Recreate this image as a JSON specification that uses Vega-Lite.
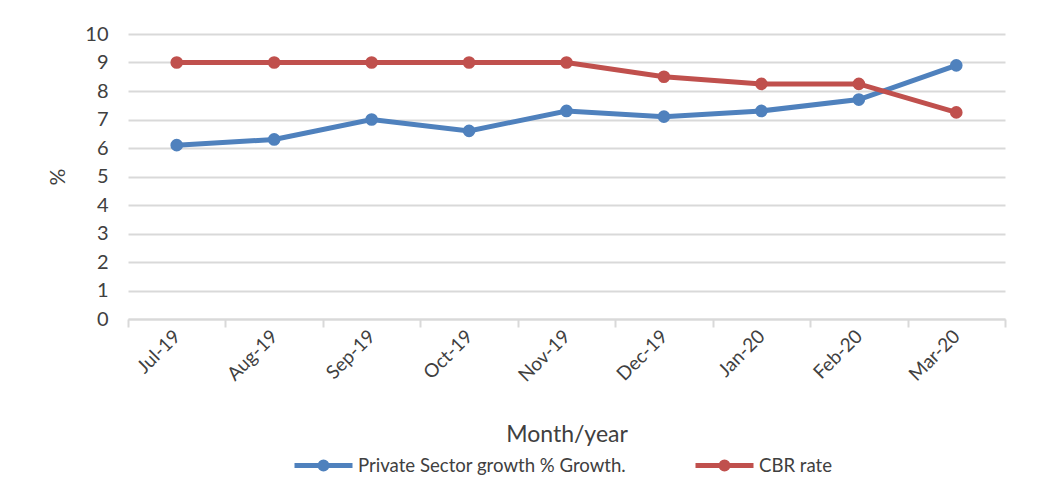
{
  "$schema": "https://vega.github.io/schema/vega-lite/v6.json",
  "autosize": {"type": "none"},
  "width": 877,
  "height": 285,
  "padding": {"left": 128, "top": 34, "right": 48, "bottom": 163},
  "background": "white",
  "config": {
    "font": "Lato",
    "view": {"stroke": null},
    "axis": {"labelColor": "#404040", "titleColor": "#404040", "labelFont": "Lato", "titleFont": "Lato", "titleFontWeight": "normal"},
    "legend": {"labelFont": "Lato", "labelColor": "#404040"}
  },
  "data": {
    "values": [
      {"month": "Jul-19", "series": "Private Sector growth % Growth.", "value": 6.1},
      {"month": "Aug-19", "series": "Private Sector growth % Growth.", "value": 6.3},
      {"month": "Sep-19", "series": "Private Sector growth % Growth.", "value": 7.0},
      {"month": "Oct-19", "series": "Private Sector growth % Growth.", "value": 6.6},
      {"month": "Nov-19", "series": "Private Sector growth % Growth.", "value": 7.3},
      {"month": "Dec-19", "series": "Private Sector growth % Growth.", "value": 7.1},
      {"month": "Jan-20", "series": "Private Sector growth % Growth.", "value": 7.3},
      {"month": "Feb-20", "series": "Private Sector growth % Growth.", "value": 7.7},
      {"month": "Mar-20", "series": "Private Sector growth % Growth.", "value": 8.9},
      {"month": "Jul-19", "series": "CBR rate", "value": 9},
      {"month": "Aug-19", "series": "CBR rate", "value": 9},
      {"month": "Sep-19", "series": "CBR rate", "value": 9},
      {"month": "Oct-19", "series": "CBR rate", "value": 9},
      {"month": "Nov-19", "series": "CBR rate", "value": 9},
      {"month": "Dec-19", "series": "CBR rate", "value": 8.5},
      {"month": "Jan-20", "series": "CBR rate", "value": 8.25},
      {"month": "Feb-20", "series": "CBR rate", "value": 8.25},
      {"month": "Mar-20", "series": "CBR rate", "value": 7.25}
    ]
  },
  "mark": {"type": "line", "strokeWidth": 5, "point": {"filled": true, "size": 160, "opacity": 1}},
  "encoding": {
    "x": {
      "field": "month", "type": "ordinal", "sort": null,
      "scale": {"paddingInner": 0, "paddingOuter": 0},
      "axis": {
        "title": "Month/year", "titleFontSize": 23, "titlePadding": 38,
        "labelAngle": -45, "labelAlign": "right", "labelBaseline": "middle", "labelFontSize": 19, "labelPadding": 6,
        "tickBand": "extent", "tickSize": 8, "tickColor": "#d9d9d9", "tickWidth": 2,
        "domainColor": "#d9d9d9", "domainWidth": 2
      }
    },
    "y": {
      "field": "value", "type": "quantitative",
      "scale": {"domain": [0, 10]},
      "axis": {
        "title": "%", "titleFontSize": 21, "titlePadding": 16,
        "values": [0,1,2,3,4,5,6,7,8,9,10],
        "labelFontSize": 20, "labelPadding": 20,
        "domain": false, "ticks": false,
        "grid": true, "gridColor": "#d9d9d9", "gridWidth": 2
      }
    },
    "color": {
      "field": "series", "type": "nominal",
      "scale": {"domain": ["Private Sector growth % Growth.", "CBR rate"], "range": ["#4F81BD", "#C0504D"]},
      "legend": {
        "title": null, "orient": "none", "direction": "horizontal",
        "legendX": 164, "legendY": 400,
        "symbolType": "M-1,0H1M-0.12,0a0.12,0.12 0 1,0 0.24,0a0.12,0.12 0 1,0 -0.24,0",
        "symbolSize": 3364, "symbolStrokeWidth": 5, "symbolOpacity": 1,
        "labelFontSize": 18.6, "labelOffset": 3, "labelLimit": 500, "columnPadding": 58
      }
    }
  }
}
